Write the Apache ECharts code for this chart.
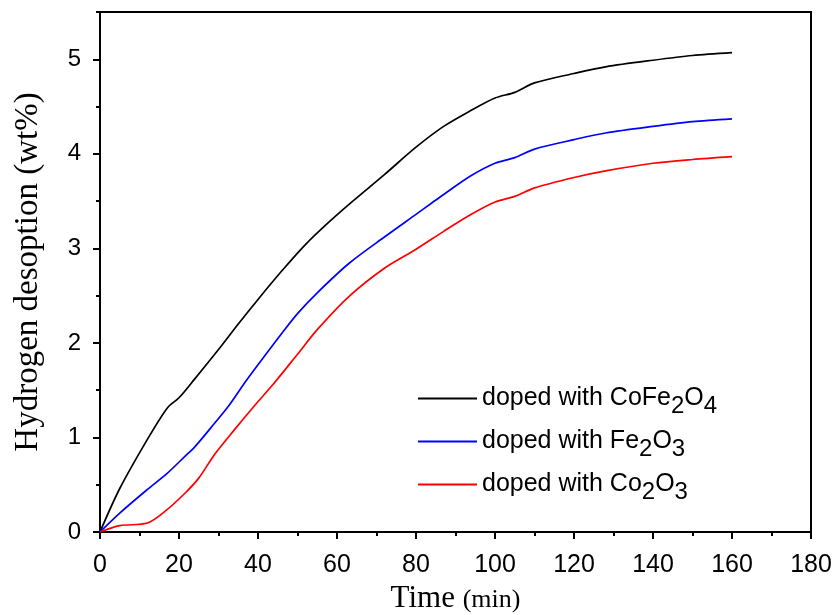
<!DOCTYPE html>
<html>
<head>
<meta charset="utf-8">
<script src="https://cdn.jsdelivr.net/npm/echarts@6/dist/echarts.min.js"></script>
<style>
  html, body { margin: 0; padding: 0; background: #fff; }
  #chart { width: 839px; height: 615px; }
</style>
</head>
<body>
<div id="chart"></div>
<script>
// Hydrogen desorption curves, time in minutes vs wt%
const timeCoFe2O4 = [0, 5, 12, 17, 20, 24, 30, 35, 40, 46, 52, 58, 64, 72, 80, 87, 94, 100, 105, 110, 120, 128, 140, 150, 160];
const valCoFe2O4  = [0, 0.46, 0.98, 1.31, 1.42, 1.62, 1.93, 2.20, 2.46, 2.76, 3.04, 3.28, 3.50, 3.78, 4.07, 4.29, 4.46, 4.59, 4.65, 4.75, 4.85, 4.92, 4.99, 5.04, 5.07];

const timeFe2O3 = [0, 5, 12, 17, 21.5, 24, 29, 32.5, 37, 42, 46, 50, 55, 63, 72, 80, 84, 87, 94, 100, 105, 110, 120, 128, 140, 150, 160];
const valFe2O3  = [0, 0.20, 0.45, 0.62, 0.80, 0.90, 1.15, 1.33, 1.60, 1.88, 2.10, 2.31, 2.53, 2.84, 3.12, 3.36, 3.48, 3.57, 3.77, 3.90, 3.96, 4.05, 4.15, 4.22, 4.29, 4.34, 4.37];

const timeCo2O3 = [0, 5, 12, 16.5, 21.5, 25, 29, 34, 39, 44, 50, 55, 63, 72, 80, 87, 94, 100, 105, 110, 120, 128, 140, 150, 160];
const valCo2O3  = [0, 0.067, 0.095, 0.22, 0.41, 0.57, 0.82, 1.08, 1.33, 1.57, 1.88, 2.14, 2.49, 2.79, 2.99, 3.18, 3.36, 3.49, 3.55, 3.64, 3.75, 3.82, 3.90, 3.94, 3.97];

const seriesNames = ['CoFe2O4', 'Fe2O3', 'Co2O3'];
const legendLabels = {
  'CoFe2O4': '{t|doped with CoFe}{s|2}{t|O}{s|4}',
  'Fe2O3': '{t|doped with Fe}{s|2}{t|O}{s|3}',
  'Co2O3': '{t|doped with Co}{s|2}{t|O}{s|3}'
};
const yMajorTicks = [0, 1, 2, 3, 4, 5];

function pairs(xs, ys) { return xs.map((x, i) => [x, ys[i]]); }

const chart = echarts.init(document.getElementById('chart'), null, { renderer: 'canvas' });

const sans = 'Liberation Sans, Arial, sans-serif';
const serif = 'Liberation Serif, Times New Roman, serif';
const axisLine = { show: true, lineStyle: { color: '#000', width: 2 } };

chart.setOption({
  animation: false,
  backgroundColor: '#fff',
  grid: {
    left: 100, top: 12, right: 28, bottom: 83,
    containLabel: false, outerBoundsMode: 'none',
    show: true, borderColor: '#000', borderWidth: 2, backgroundColor: 'transparent'
  },
  legend: {
    orient: 'vertical',
    left: 413, top: 374,
    itemWidth: 59, itemHeight: 2, itemGap: 4,
    icon: 'rect',
    data: seriesNames,
    formatter: name => legendLabels[name],
    textStyle: {
      rich: {
        t: { fontFamily: sans, fontSize: 25, color: '#000', lineHeight: 28 },
        s: { fontFamily: sans, fontSize: 24, color: '#000', lineHeight: 28, padding: [15, 0, 0, 0] }
      }
    }
  },
  xAxis: {
    type: 'value', min: 0, max: 180, interval: 20,
    name: '{a|Time }{b|(min)}',
    nameLocation: 'middle', nameGap: 50,
    nameTextStyle: {
      rich: {
        a: { fontFamily: serif, fontSize: 31, color: '#000' },
        b: { fontFamily: serif, fontSize: 26, color: '#000', padding: [4, 0, 0, 0] }
      }
    },
    axisLine: axisLine,
    axisTick: { show: true, inside: false, length: 7, lineStyle: { color: '#000', width: 2 } },
    minorTick: { show: true, splitNumber: 2, length: 4, lineStyle: { color: '#000', width: 2 } },
    axisLabel: { margin: 21, fontFamily: sans, fontSize: 25, color: '#000' },
    splitLine: { show: false }
  },
  yAxis: [{
    type: 'value', min: 0, max: 5.5, interval: 0.5,
    name: 'Hydrogen desoption (wt%)',
    nameLocation: 'middle', nameGap: 55,
    nameTextStyle: { fontFamily: serif, fontSize: 33, color: '#000' },
    axisLine: axisLine,
    axisTick: { show: true, inside: false, length: 4, lineStyle: { color: '#000', width: 2 } },
    axisLabel: {
      margin: 19, fontFamily: sans, fontSize: 24, color: '#000',
      formatter: v => (Math.abs(v - Math.round(v)) < 1e-9 ? String(Math.round(v)) : '')
    },
    splitLine: { show: false }
  }, {
    type: 'value', min: 0, max: 5.5, position: 'left',
    axisLine: { show: false },
    axisTick: { show: true, inside: false, length: 7, customValues: yMajorTicks, lineStyle: { color: '#000', width: 2 } },
    axisLabel: { show: false },
    splitLine: { show: false }
  }],
  series: [
    { name: 'CoFe2O4', type: 'line', data: pairs(timeCoFe2O4, valCoFe2O4), smooth: 0.3, symbol: 'none', lineStyle: { color: '#000000', width: 1.7 }, itemStyle: { color: '#000000' } },
    { name: 'Fe2O3', type: 'line', data: pairs(timeFe2O3, valFe2O3), smooth: 0.3, symbol: 'none', lineStyle: { color: '#0000ff', width: 1.7 }, itemStyle: { color: '#0000ff' } },
    { name: 'Co2O3', type: 'line', data: pairs(timeCo2O3, valCo2O3), smooth: 0.3, symbol: 'none', lineStyle: { color: '#ff0000', width: 1.7 }, itemStyle: { color: '#ff0000' } }
  ]
});
</script>
</body>
</html>
